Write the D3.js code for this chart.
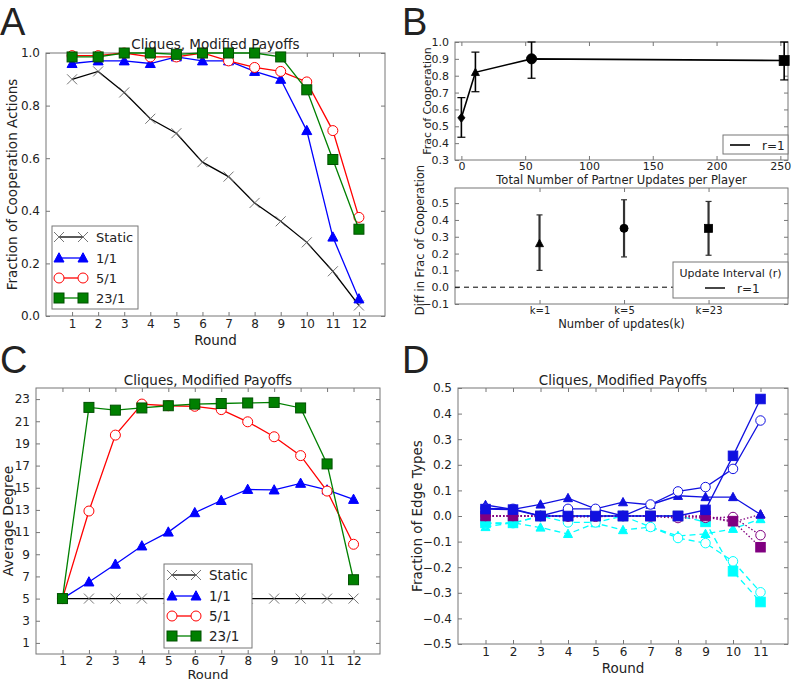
<!DOCTYPE html>
<html><head><meta charset="utf-8">
<script src="https://cdn.jsdelivr.net/npm/d3@7"></script>
<style>body{margin:0;background:#fff}svg{display:block}text{font-family:"DejaVu Sans",sans-serif;fill:#222}</style>
</head><body><svg id="c" width="796" height="682"></svg>
<script>
// ---------- DATA ----------
const roundsA = [1,2,3,4,5,6,7,8,9,10,11,12];
const seriesNames = ["Static","1/1","5/1","23/1"];
const coopStatic = [0.90,0.93,0.85,0.75,0.695,0.585,0.53,0.43,0.36,0.28,0.17,0.04];
const coop1 = [0.96,0.97,0.97,0.96,0.985,0.97,0.97,0.93,0.90,0.705,0.30,0.065];
const coop5 = [0.99,0.99,1.0,0.985,0.985,1.0,0.97,0.945,0.93,0.89,0.705,0.375];
const coop23 = [0.985,0.985,1.0,1.0,0.995,1.0,1.0,1.0,0.985,0.86,0.595,0.33];
const ticksA_y = [0.0,0.2,0.4,0.6,0.8,1.0];

const updatesX = [0,11,55,253];
const updatesY = [0.55,0.82,0.90,0.89];
const updatesLo = [0.435,0.705,0.785,0.775];
const updatesHi = [0.67,0.94,1.0,1.0];
const updatesMarker = ["diamond","triangle","circle","square"];
const ticksB1_x = [0,50,100,150,200,250];
const ticksB1_y = [0.3,0.4,0.5,0.6,0.7,0.8,0.9,1.0];

const kLabels = ["k=1","k=5","k=23"];
const diffY = [0.26,0.35,0.35];
const diffLo = [0.10,0.18,0.19];
const diffHi = [0.43,0.52,0.51];
const diffMarker = ["triangle","circle","square"];
const ticksB2_y = [-0.1,0.0,0.1,0.2,0.3,0.4,0.5];

const degStatic = [5,5,5,5,5,5,5,5,5,5,5,5];
const deg1 = [5,6.5,8.1,9.75,11.0,12.75,13.85,14.85,14.8,15.4,14.8,13.95];
const deg5 = [5,12.9,19.75,22.55,22.4,22.35,22.05,20.95,19.6,17.9,14.7,9.9];
const deg23 = [5,22.25,22.0,22.2,22.4,22.55,22.6,22.65,22.7,22.2,17.15,6.7];
const ticksC_y = [1,3,5,7,9,11,13,15,17,19,21,23];

const roundsD = [1,2,3,4,5,6,7,8,9,10,11];
const ccTri  = [0.043,0.026,0.045,0.070,0.028,0.054,0.044,0.079,0.074,0.074,0.006];
const ddTri  = [-0.043,-0.026,-0.045,-0.070,-0.028,-0.055,-0.043,-0.078,-0.070,-0.050,-0.012];
const cdTri  = [0,0,0,0,0,0,0,0,-0.004,-0.024,0.006];
const ccCirc = [0.030,0.028,0.0,0.028,0.028,0.0,0.045,0.096,0.113,0.184,0.373];
const ddCirc = [-0.030,-0.028,0.0,-0.025,-0.025,0.0,-0.043,-0.086,-0.106,-0.177,-0.298];
const cdCirc = [0,0,0,-0.003,-0.003,0,-0.002,-0.008,-0.007,-0.004,-0.075];
const ccSq   = [0.027,0.025,0,0,0,0,0,0,0.024,0.235,0.457];
const ddSq   = [-0.027,-0.027,0,0,0,0,0,0,-0.023,-0.216,-0.336];
const cdSq   = [0,0,0,0,0,0,0,0,0,-0.020,-0.122];
const ticksD_y = [-0.5,-0.4,-0.3,-0.2,-0.1,0.0,0.1,0.2,0.3,0.4,0.5];

const title = "Cliques, Modified Payoffs";

// ---------- HELPERS ----------
const svg = d3.select("#c");
const FRAME = "#777";

function marker(g, type, x, y, s, fill, stroke, sw) {
  const h = s/2;
  if (type === "square") {
    g.append("rect").attr("x", x-h).attr("y", y-h).attr("width", s).attr("height", s)
      .attr("fill", fill).attr("stroke", stroke).attr("stroke-width", sw||0.8);
  } else if (type === "circle") {
    g.append("circle").attr("cx", x).attr("cy", y).attr("r", h)
      .attr("fill", fill).attr("stroke", stroke).attr("stroke-width", sw||1);
  } else if (type === "triangle") {
    g.append("path").attr("d", `M${x},${y-h*1.05}L${x+h},${y+h*0.8}L${x-h},${y+h*0.8}Z`)
      .attr("fill", fill).attr("stroke", stroke).attr("stroke-width", sw||0.8);
  } else if (type === "diamond") {
    g.append("path").attr("d", `M${x},${y-h}L${x+h*0.8},${y}L${x},${y+h}L${x-h*0.8},${y}Z`)
      .attr("fill", fill).attr("stroke", stroke).attr("stroke-width", sw||0.8);
  } else if (type === "x") {
    g.append("path").attr("d", `M${x-h},${y-h}L${x+h},${y+h}M${x-h},${y+h}L${x+h},${y-h}`)
      .attr("fill", "none").attr("stroke", stroke).attr("stroke-width", sw||0.8);
  }
}

function makePanel(o) {
  const x = d3.scaleLinear().domain(o.xd).range([o.l, o.r]);
  const y = d3.scaleLinear().domain(o.yd).range([o.b, o.t]);
  const g = svg.append("g");
  const fs = o.fs || 12;
  g.append("rect").attr("x", o.l).attr("y", o.t).attr("width", o.r-o.l).attr("height", o.b-o.t)
    .attr("fill", "#fff").attr("stroke", FRAME).attr("stroke-width", 1);
  const xt = o.xticks, yt = o.yticks;
  const fmtx = o.xfmt || (d=>d), fmty = o.yfmt || (d=>d);
  const ax = g.append("g").attr("transform", `translate(0,${o.b})`)
    .call(d3.axisBottom(x).tickValues(xt).tickFormat(fmtx).tickSizeInner(-4).tickSizeOuter(0).tickPadding(o.xpad||6));
  ax.selectAll("text").attr("font-size", o.xfs||fs).style("font-family","DejaVu Sans").attr("fill","#222");
  g.append("g").attr("transform", `translate(0,${o.t})`)
    .call(d3.axisTop(x).tickValues(xt).tickFormat("").tickSizeInner(-4).tickSizeOuter(0));
  const ay = g.append("g").attr("transform", `translate(${o.l},0)`)
    .call(d3.axisLeft(y).tickValues(yt).tickFormat(fmty).tickSizeInner(-4).tickSizeOuter(0).tickPadding(6));
  ay.selectAll("text").attr("font-size", o.yfs||fs).style("font-family","DejaVu Sans").attr("fill","#222");
  g.append("g").attr("transform", `translate(${o.r},0)`)
    .call(d3.axisRight(y).tickValues(yt).tickFormat("").tickSizeInner(-4).tickSizeOuter(0));
  g.selectAll(".domain").remove();
  g.selectAll(".tick line").attr("stroke", FRAME);
  const body = g.append("g");
  if (o.title) g.append("text").attr("x", (o.l+o.r)/2).attr("y", o.titleY).attr("text-anchor","middle")
    .attr("font-size", o.tfs||13.5).text(o.title);
  if (o.xlabel) g.append("text").attr("x", o.xlx || (o.l+o.r)/2).attr("y", o.xly).attr("text-anchor","middle")
    .attr("font-size", o.xlfs||13.5).text(o.xlabel);
  if (o.ylabel) g.append("text").attr("transform", `translate(${o.ylx},${o.yly || (o.t+o.b)/2}) rotate(-90)`)
    .attr("text-anchor","middle").attr("font-size", o.ylfs||13.5).text(o.ylabel);
  return {x, y, g, body};
}

function letter(t, x, y) {
  svg.append("text").attr("x", x).attr("y", y).attr("font-size", 38)
    .style("font-family", "Liberation Sans, Arial, sans-serif").attr("fill","#000").text(t);
}

function series(p, xs, ys, color, mtype, msize, mfill, mstroke, dash, lw) {
  const line = d3.line().x((d,i)=>p.x(xs[i])).y(d=>p.y(d));
  p.body.append("path").attr("d", line(ys)).attr("fill","none").attr("stroke", color)
    .attr("stroke-width", lw||1.3).attr("stroke-dasharray", dash||null);
  ys.forEach((v,i)=>marker(p.body, mtype, p.x(xs[i]), p.y(v), msize, mfill, mstroke, mtype==="x"?0.9:1));
}

function legend(g, x0, y0, w, h, rows, lx1, lx2, tx, fs) {
  g.append("rect").attr("x", x0).attr("y", y0).attr("width", w).attr("height", h)
    .attr("fill","#fff").attr("stroke", FRAME).attr("stroke-width",1);
  rows.forEach(r=>{
    g.append("line").attr("x1", lx1).attr("x2", lx2).attr("y1", r.y).attr("y2", r.y)
      .attr("stroke", r.color).attr("stroke-width", 1.3);
    marker(g, r.m, lx1, r.y, r.s, r.fill, r.stroke, r.m==="x"?0.9:1);
    marker(g, r.m, lx2, r.y, r.s, r.fill, r.stroke, r.m==="x"?0.9:1);
    g.append("text").attr("x", tx).attr("y", r.y+4.5).attr("font-size", fs).text(r.label);
  });
}

// ---------- PANEL A ----------
letter("A", 0, 35);
const pA = makePanel({l:46, r:385, t:53, b:316, xd:[0,13], yd:[0,1], xticks: roundsA, yticks: ticksA_y,
  yfmt: d3.format(".1f"), title, titleY: 49, xpad: 3, xlabel: "Round", xly: 345, ylabel: "Fraction of Cooperation Actions", ylx: 17});
series(pA, roundsA, coopStatic, "#000", "x", 10, "none", "#666");
series(pA, roundsA, coop1, "#0000ff", "triangle", 10, "#0000ff", "#0000ff");
series(pA, roundsA, coop5, "#ff0000", "circle", 10, "#fff", "#ff0000");
series(pA, roundsA, coop23, "#008000", "square", 10, "#008000", "#005000");
legend(pA.g, 52, 226, 86, 83, [
  {label: seriesNames[0], y: 237, color:"#000", m:"x", s:10, fill:"none", stroke:"#666"},
  {label: seriesNames[1], y: 258, color:"#0000ff", m:"triangle", s:10, fill:"#0000ff", stroke:"#0000ff"},
  {label: seriesNames[2], y: 278, color:"#ff0000", m:"circle", s:10, fill:"#fff", stroke:"#ff0000"},
  {label: seriesNames[3], y: 298, color:"#008000", m:"square", s:10, fill:"#008000", stroke:"#005000"}
], 59, 83, 96, 13);

// ---------- PANEL B top ----------
letter("B", 402, 35);
const pB1 = makePanel({l:455, r:788, t:42, b:160, xd:[-5,256], yd:[0.3,1.0], xticks: ticksB1_x, yticks: ticksB1_y,
  yfmt: d3.format(".1f"), fs: 11, xpad: 2.5, xlabel: "Total Number of Partner Updates per Player", xly: 184, xlfs: 11.5,
  ylabel: "Frac of Cooperation", ylx: 431, ylfs: 11});
{
  const line = d3.line().x((d,i)=>pB1.x(updatesX[i])).y(d=>pB1.y(d));
  pB1.body.append("path").attr("d", line(updatesY)).attr("fill","none").attr("stroke","#000").attr("stroke-width",1.6);
  updatesX.forEach((v,i)=>{
    const cx = pB1.x(v), lo = pB1.y(updatesLo[i]), hi = pB1.y(updatesHi[i]);
    pB1.body.append("line").attr("x1",cx).attr("x2",cx).attr("y1",lo).attr("y2",hi).attr("stroke","#000").attr("stroke-width",1.6);
    [lo,hi].forEach(yy=>pB1.body.append("line").attr("x1",cx-4).attr("x2",cx+4).attr("y1",yy).attr("y2",yy).attr("stroke","#000").attr("stroke-width",1.2));
    marker(pB1.body, updatesMarker[i], cx, pB1.y(updatesY[i]), updatesMarker[i]==="triangle"?8:(updatesMarker[i]==="diamond"?9:10), "#000", "#000");
  });
  pB1.g.append("rect").attr("x",723).attr("y",135).attr("width",65).attr("height",19).attr("fill","#fff").attr("stroke",FRAME);
  pB1.g.append("line").attr("x1",730).attr("x2",750).attr("y1",145).attr("y2",145).attr("stroke","#000").attr("stroke-width",1.6);
  pB1.g.append("text").attr("x",762).attr("y",149.5).attr("font-size",12).text("r=1");
}

// ---------- PANEL B bottom ----------
const pB2 = makePanel({l:455, r:788, t:188, b:304, xd:[0,3.94], yd:[-0.1,0.59], xticks: [1,2,3], yticks: ticksB2_y,
  xfmt: (d,i)=>kLabels[i], yfmt: d3.format(".1f"), fs: 11, xfs: 10, xpad: 3,
  xlabel: "Number of updates(k)", xly: 328, xlfs: 11.5, ylabel: "Diff in Frac of Cooperation", ylx: 424, yly: 240, ylfs: 11.5});
pB2.body.append("line").attr("x1",455).attr("x2",788).attr("y1",pB2.y(0)).attr("y2",pB2.y(0))
  .attr("stroke","#000").attr("stroke-width",1).attr("stroke-dasharray","5,4");
[1,2,3].forEach((v,i)=>{
  const cx = pB2.x(v), lo = pB2.y(diffLo[i]), hi = pB2.y(diffHi[i]);
  pB2.body.append("line").attr("x1",cx).attr("x2",cx).attr("y1",lo).attr("y2",hi).attr("stroke","#333").attr("stroke-width",2.2);
  [lo,hi].forEach(yy=>pB2.body.append("line").attr("x1",cx-3).attr("x2",cx+3).attr("y1",yy).attr("y2",yy).attr("stroke","#333").attr("stroke-width",1.2));
  marker(pB2.body, diffMarker[i], cx, pB2.y(diffY[i]), 8, "#000", "#000");
});
pB2.g.append("rect").attr("x",673).attr("y",262).attr("width",115).attr("height",36).attr("fill","#fff").attr("stroke",FRAME);
pB2.g.append("text").attr("x",730.5).attr("y",277).attr("text-anchor","middle").attr("font-size",11).text("Update Interval (r)");
pB2.g.append("line").attr("x1",705).attr("x2",725).attr("y1",288).attr("y2",288).attr("stroke","#333").attr("stroke-width",1.8);
pB2.g.append("text").attr("x",737).attr("y",292.5).attr("font-size",12).text("r=1");

// ---------- PANEL C ----------
letter("C", 0, 373);
const pC = makePanel({l:36, r:380, t:388, b:654, xd:[0,13], yd:[0,24], xticks: roundsA, yticks: ticksC_y,
  title, titleY: 385, xpad: 2, xlabel: "Round", xly: 678.5, xlfs: 13, ylabel: "Average Degree", ylx: 13, ylfs: 13.7});
series(pC, roundsA, degStatic, "#000", "x", 10, "none", "#666");
series(pC, roundsA, deg1, "#0000ff", "triangle", 10, "#0000ff", "#0000ff");
series(pC, roundsA, deg5, "#ff0000", "circle", 10, "#fff", "#ff0000");
series(pC, roundsA, deg23, "#008000", "square", 10, "#008000", "#005000");
legend(pC.g, 164, 564, 88, 84, [
  {label: seriesNames[0], y: 575, color:"#000", m:"x", s:10, fill:"none", stroke:"#666"},
  {label: seriesNames[1], y: 596, color:"#0000ff", m:"triangle", s:10, fill:"#0000ff", stroke:"#0000ff"},
  {label: seriesNames[2], y: 616, color:"#ff0000", m:"circle", s:10, fill:"#fff", stroke:"#ff0000"},
  {label: seriesNames[3], y: 636, color:"#008000", m:"square", s:10, fill:"#008000", stroke:"#005000"}
], 172, 196, 209, 13.5);

// ---------- PANEL D ----------
letter("D", 402, 373);
const pD = makePanel({l:458, r:788, t:388, b:644, xd:[0,12], yd:[-0.5,0.5], xticks: roundsD, yticks: ticksD_y,
  yfmt: d3.format(".1f"), xpad: 3, title, titleY: 385, xlabel: "Round", xly: 673, xlfs: 13.5, ylabel: "Fraction of Edge Types", ylx: 422, ylfs: 13.5});
const BL = "#1010e0", CY = "#00ffff", PU = "#800080";
series(pD, roundsD, ddTri, CY, "triangle", 9, CY, CY, "6,4");
series(pD, roundsD, ddCirc, CY, "circle", 9.5, "#fff", CY, "6,4");
series(pD, roundsD, ddSq, CY, "square", 9.5, CY, CY, "6,4");
series(pD, roundsD, cdTri, PU, "triangle", 9, PU, PU, "1.5,2");
series(pD, roundsD, cdCirc, PU, "circle", 9.5, "#fff", PU, "1.5,2");
series(pD, roundsD, cdSq, PU, "square", 9.5, PU, PU, "1.5,2");
series(pD, roundsD, ccTri, BL, "triangle", 9, BL, BL);
series(pD, roundsD, ccCirc, BL, "circle", 9.5, "#fff", BL);
series(pD, roundsD, ccSq, BL, "square", 9.5, BL, BL);
</script></body></html>
